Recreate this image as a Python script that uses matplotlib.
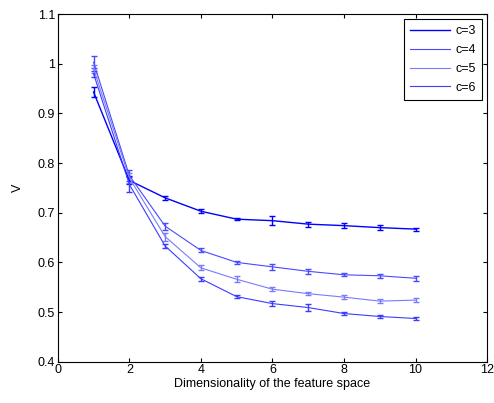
import matplotlib
matplotlib.use("Agg")
import matplotlib.pyplot as plt
from matplotlib.lines import Line2D

plt.rcParams['font.family'] = ['Liberation Sans', 'DejaVu Sans']
plt.rcParams['font.size'] = 9

# Dados
dims = [1, 2, 3, 4, 5, 6, 7, 8, 9, 10]
labels = ["c=3", "c=4", "c=5", "c=6"]

v_c3 = [0.943, 0.765, 0.730, 0.703, 0.687, 0.684, 0.677, 0.674, 0.670, 0.667]
v_c4 = [1.003, 0.775, 0.673, 0.624, 0.600, 0.591, 0.582, 0.575, 0.573, 0.568]
v_c5 = [0.990, 0.770, 0.652, 0.589, 0.566, 0.546, 0.537, 0.530, 0.522, 0.524]
v_c6 = [0.980, 0.757, 0.633, 0.567, 0.531, 0.517, 0.509, 0.497, 0.491, 0.487]

e_c3 = [0.010, 0.008, 0.004, 0.004, 0.002, 0.009, 0.005, 0.005, 0.005, 0.003]
e_c4 = [0.012, 0.012, 0.007, 0.004, 0.003, 0.006, 0.005, 0.003, 0.004, 0.005]
e_c5 = [0.008, 0.010, 0.008, 0.005, 0.006, 0.004, 0.003, 0.004, 0.004, 0.004]
e_c6 = [0.006, 0.015, 0.004, 0.004, 0.003, 0.005, 0.007, 0.003, 0.003, 0.003]

valores = [v_c3, v_c4, v_c5, v_c6]
erros = [e_c3, e_c4, e_c5, e_c6]
cores = ["#0000ff", "#4a4aff", "#7a7aff", "#3c3cff"]
larguras = [1.0, 0.8, 0.8, 0.8]

fig = plt.figure(figsize=(4.94, 4.03), dpi=100)
ax = fig.add_axes([0.117, 0.1025, 0.869, 0.8625])

handles = []
for v, e, cor, lw, lab in zip(valores, erros, cores, larguras, labels):
    ax.errorbar(dims, v, yerr=e, color=cor, lw=lw, elinewidth=1.0,
                capsize=2.5, capthick=1.0)
    handles.append(Line2D([], [], color=cor, lw=lw))

ax.set_xlim(0, 12)
ax.set_ylim(0.4, 1.1)
ax.set_xticks(range(0, 13, 2))
ax.set_yticks([0.4, 0.5, 0.6, 0.7, 0.8, 0.9, 1.0, 1.1])
ax.set_yticklabels(["0.4", "0.5", "0.6", "0.7", "0.8", "0.9", "1", "1.1"])
ax.tick_params(direction="in", top=True, right=True, length=3, pad=2)
for s in ax.spines.values():
    s.set_linewidth(0.8)

ax.set_xlabel("Dimensionality of the feature space", labelpad=1)
ax.set_ylabel("V", labelpad=10)

leg = ax.legend(handles, labels, loc="upper right",
                bbox_to_anchor=(0.988, 0.986), fancybox=False,
                edgecolor="black", framealpha=1, borderaxespad=0,
                handlelength=3.2, handletextpad=0.4, labelspacing=0.55,
                borderpad=0.5)
leg.get_frame().set_linewidth(0.8)

fig.savefig("out.png", dpi=100)
plt.close(fig)
